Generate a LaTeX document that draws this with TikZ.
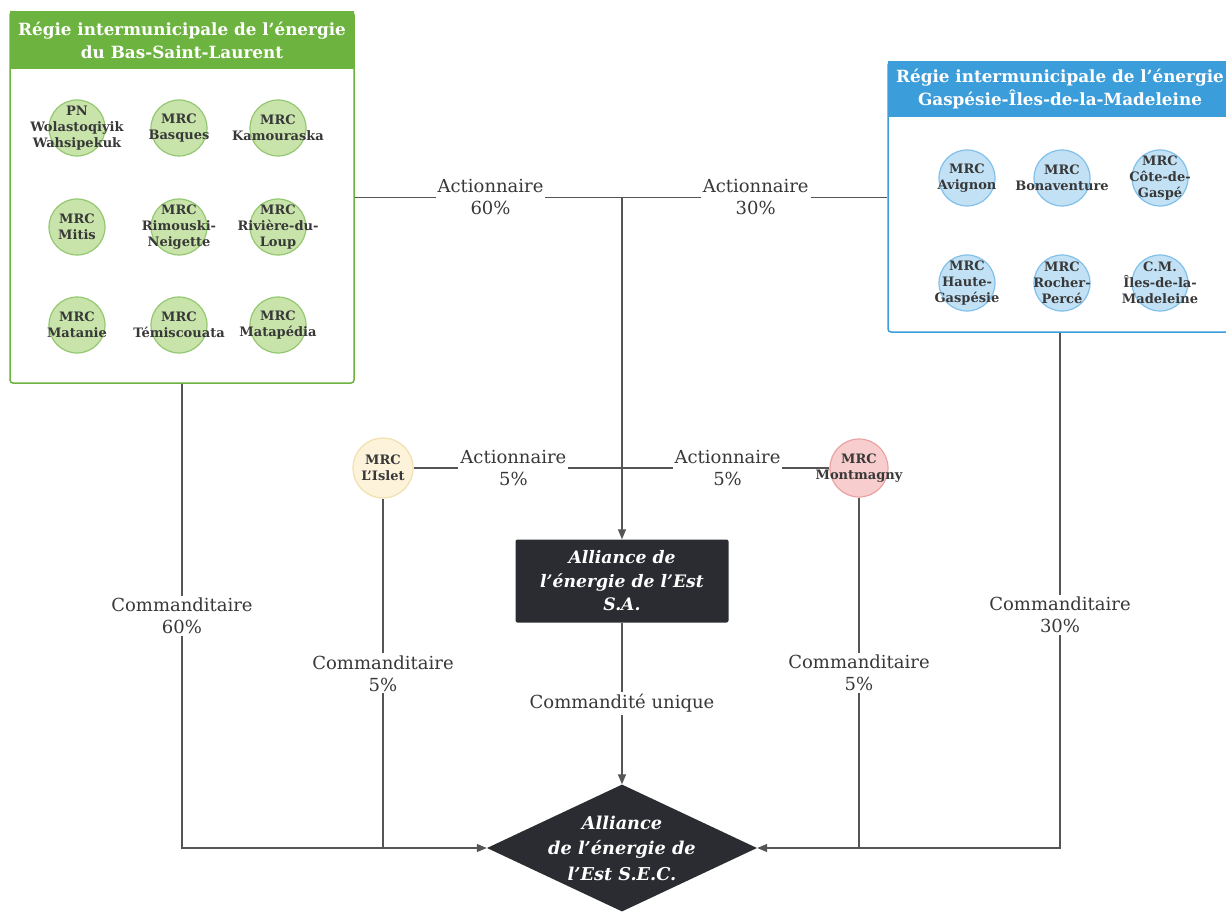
\documentclass[tikz,border=0pt]{standalone}
\usepackage{fontspec}
\setmainfont{DejaVu Serif}
\usetikzlibrary{arrows.meta}
\usetikzlibrary{shapes.geometric}

\definecolor{bslgreen}{HTML}{6DB33F}
\definecolor{bslfill}{HTML}{C8E4AA}
\definecolor{bslring}{HTML}{94C870}
\definecolor{gimblue}{HTML}{3C9DDB}
\definecolor{gimfill}{HTML}{C2E1F5}
\definecolor{gimring}{HTML}{80C0EA}
\definecolor{isletfill}{HTML}{FDF2DA}
\definecolor{isletring}{HTML}{F3DFAE}
\definecolor{montfill}{HTML}{F8CDCD}
\definecolor{montring}{HTML}{EBA3A3}
\definecolor{aeedark}{HTML}{2A2C31}
\definecolor{wire}{HTML}{555555}
\definecolor{txtgray}{HTML}{383838}

\begin{document}
\begin{tikzpicture}[x=1pt,y=-1pt,>={Triangle[length=10pt,width=8pt]},
  region/.style={rectangle,rounded corners=3pt,fill=white,line width=1.5pt,minimum width=344pt},
  header/.style={rectangle,text=white,align=center,minimum width=344pt,inner sep=0pt,
    font=\bfseries\fontsize{16.8}{23}\selectfont},
  mrc/.style={circle,line width=1.2pt,minimum size=56pt,inner sep=0pt},
  mrctxt/.style={align=center,text=txtgray,inner sep=0pt,font=\bfseries\fontsize{13}{16}\selectfont},
  link/.style={draw=wire,line width=1.3pt},
  role/.style={fill=white,align=center,text=txtgray,inner sep=2pt,font=\fontsize{18}{22}\selectfont},
  entity/.style={fill=aeedark,text=white,align=center,font=\bfseries\itshape\fontsize{17.2}{23.5}\selectfont}]

  \useasboundingbox (0,0) rectangle (1226,912);

  % regies
  \node[region,draw=bslgreen,minimum height=371pt] (bsl) at (182,197.5) {};
  \node[header,fill=bslgreen,minimum height=58pt,anchor=north] (bslh) at (bsl.north)
    {R\'egie intermunicipale de l'\'energie\\du Bas-Saint-Laurent};
  \node[region,draw=gimblue,minimum height=270pt] (gim) at (1060,197) {};
  \node[header,fill=gimblue,minimum height=56pt,anchor=north] (gimh) at (gim.north)
    {R\'egie intermunicipale de l'\'energie\\Gasp\'esie-\^Iles-de-la-Madeleine};

  % MRC du Bas-Saint-Laurent
  \tikzset{bslc/.style={mrc,fill=bslfill,draw=bslring}}
  \node[bslc,label={[mrctxt]center:PN\\Wolastoqiyik\\Wahsipekuk}] (pn) at (77,128) {};
  \node[bslc,label={[mrctxt]center:MRC\\Basques},right of=pn,node distance=102pt] (basques) {};
  \node[bslc,label={[mrctxt]center:MRC\\Kamouraska},right of=basques,node distance=99pt] (kamouraska) {};
  \node[bslc,label={[mrctxt]center:MRC\\Mitis},below of=pn,node distance=99pt] (mitis) {};
  \node[bslc,label={[mrctxt]center:MRC\\Rimouski-\\Neigette},below of=basques,node distance=99pt] (rimouski) {};
  \node[bslc,label={[mrctxt]center:MRC\\Rivi\`ere-du-\\Loup},below of=kamouraska,node distance=99pt] (riviere) {};
  \node[bslc,label={[mrctxt]center:MRC\\Matanie},below of=mitis,node distance=98pt] (matanie) {};
  \node[bslc,label={[mrctxt]center:MRC\\T\'emiscouata},below of=rimouski,node distance=98pt] (temis) {};
  \node[bslc,label={[mrctxt]center:MRC\\Matap\'edia},below of=riviere,node distance=98pt] (matapedia) {};

  % MRC de la Gaspesie
  \tikzset{gimc/.style={mrc,fill=gimfill,draw=gimring}}
  \node[gimc,label={[mrctxt]center:MRC\\Avignon}] (avignon) at (967,178) {};
  \node[gimc,label={[mrctxt]center:MRC\\Bonaventure},right of=avignon,node distance=95pt] (bonav) {};
  \node[gimc,label={[mrctxt]center:MRC\\C\^ote-de-\\Gasp\'e},right of=bonav,node distance=98pt] (cote) {};
  \node[gimc,label={[mrctxt]center:MRC\\Haute-\\Gasp\'esie},below of=avignon,node distance=105pt] (haute) {};
  \node[gimc,label={[mrctxt]center:MRC\\Rocher-\\Perc\'e},below of=bonav,node distance=105pt] (rocher) {};
  \node[gimc,label={[mrctxt]center:C.M.\\\^Iles-de-la-\\Madeleine},below of=cote,node distance=105pt] (iles) {};

  % MRC independantes
  \node[mrc,fill=isletfill,draw=isletring,minimum size=60pt,label={[mrctxt]center:MRC\\L'Islet}] (islet) at (383,468) {};
  \node[mrc,fill=montfill,draw=montring,minimum size=58pt,label={[mrctxt]center:MRC\\Montmagny}] (mont) at (859,468) {};

  % entites
  \node[entity,rectangle,rounded corners=2pt,minimum width=213pt,minimum height=83pt] (sa) at (622,581)
    {Alliance de\\l'\'energie de l'Est\\S.A.};
  \node[entity,diamond,aspect=2.1,inner sep=-8pt,minimum width=270pt,minimum height=127pt,
    font=\bfseries\itshape\fontsize{17.7}{25.5}\selectfont] (sec) at (622,848)
    {Alliance\\de l'\'energie de\\l'Est S.E.C.};

  \coordinate (split) at (sa.north |- gim.west);

  % actionnaires
  \path[link] (bsl.east) -- node[role,pos=0.255] {Actionnaire\\60\%}
                              node[role,pos=0.753] {Actionnaire\\30\%} (bsl.east -| gim.west);
  \path[link] (islet.east) -- node[role,pos=0.24] {Actionnaire\\5\%}
                                node[role,pos=0.755] {Actionnaire\\5\%} (mont.west);
  \path[link,->] (split) -- (sa.north);

  % commanditaires
  \path[link,->] (bsl.south) |- node[role,pos=0.25] {Commanditaire\\60\%} (sec.west);
  \path[link] (islet.south) -- node[role] {Commanditaire\\5\%} (islet.south |- sec.west);
  \path[link] (mont.south) -- node[role] {Commanditaire\\5\%} (mont.south |- sec.east);
  \path[link,->] (gim.south) |- node[role,pos=0.274] {Commanditaire\\30\%} (sec.east);
  \path[link,->] (sa.south) -- node[role] {Commandit\'e unique} (sec.north);
\end{tikzpicture}
\end{document}
